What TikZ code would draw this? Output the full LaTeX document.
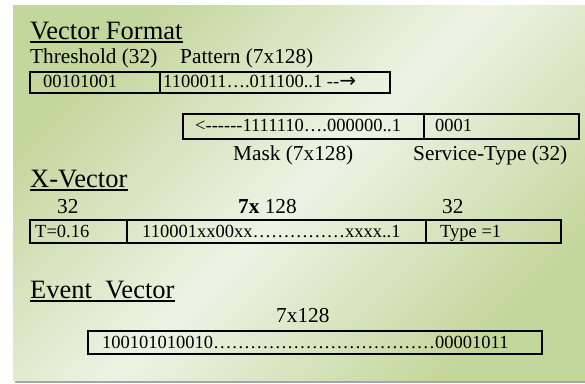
\documentclass[tikz,border=0pt]{standalone}
\usepackage{fontspec}
\setmainfont{Liberation Serif}[Ligatures=TeXOff]
\newfontfamily\arrowfont{DejaVu Sans}
\definecolor{gA}{HTML}{C3D69B}
\definecolor{gB}{HTML}{EEF3E5}
\definecolor{shadowgray}{HTML}{A6A6A6}
\tikzset{
  head/.style={inner sep=0pt, anchor=base west, font=\fontsize{26.5}{30}\selectfont},
  lbl/.style={inner sep=0pt, anchor=base west, font=\fontsize{21.3}{24}\selectfont},
  boxtxt/.style={inner sep=0pt, anchor=base west, font=\fontsize{18.5}{21}\selectfont},
  cell/.style={draw=black, line width=1.8pt, inner sep=0pt, anchor=north west},
  uline/.style={line width=1.3pt}
}
\begin{document}
\begin{tikzpicture}[x=1pt, y=-1pt]
\useasboundingbox (0,0) rectangle (585,383);
% background
\fill[shadowgray] (15,7) rectangle (587,383);
\shade[left color=gA, right color=gA, middle color=gB, shading angle=45] (13,5) rectangle (585,380);

% ---- Vector Format
\node[head] (vf) at (30,39) {Vector Format};
\draw[uline] ([yshift=-3pt]vf.base west) -- ([yshift=-3pt]vf.base east);
\node[lbl] (thr) at (30,63) {Threshold (32)};
\node[lbl] (pat) at (180,63) {Pattern (7x128)};

\node[cell, minimum width=130pt, minimum height=21pt] (c11) at (29,71) {};
\node[cell, minimum width=230pt, minimum height=21pt] (c12) at (159,71) {};
\node[boxtxt] (t11) at (43,87) {00101001};
\node[boxtxt] (t12) at (163,87) {1100011….011100..1 --{\arrowfont\fontsize{20}{22}\selectfont →}};

\node[cell, minimum width=241pt, minimum height=25pt] (c21) at (182,113) {};
\node[cell, minimum width=155pt, minimum height=25pt] (c22) at (423,113) {};
\node[boxtxt] (t21) at (195,131) {<------1111110….000000..1};
\node[boxtxt] (t22) at (435,131) {0001};
\node[lbl] (mask) at (233,160) {Mask (7x128)};
\node[lbl] (svc) at (413,160) {Service-Type (32)};

% ---- X-Vector
\node[head] (xv) at (30,187) {X-Vector};
\draw[uline] ([yshift=-3pt]xv.base west) -- ([yshift=-3pt]xv.base east);
\node[lbl] (n32a) at (57,213) {32};
\node[lbl] (n7x) at (238,213) {\textbf{7x} 128};
\node[lbl] (n32b) at (442,213) {32};

\node[cell, minimum width=97pt, minimum height=23pt] (c31) at (29,219) {};
\node[cell, minimum width=299pt, minimum height=23pt] (c32) at (126,219) {};
\node[cell, minimum width=135pt, minimum height=23pt] (c33) at (425,219) {};
\node[boxtxt] (t31) at (35,237) {T=0.16};
\node[boxtxt] (t32) at (142,237) {110001xx00xx……………xxxx..1};
\node[boxtxt] (t33) at (440,237) {Type =1};

% ---- Event Vector
\node[head] (ev) at (30,298) {Event\ \ Vector};
\draw[uline] ([yshift=-3pt]ev.base west) -- ([yshift=-3pt]ev.base east);
\node[lbl] (n7x128) at (276,322) {7x128};
\node[cell, minimum width=454pt, minimum height=23pt] (c41) at (87,330) {};
\node[boxtxt] (t41) at (102,348) {100101010010………………………………00001011};
\end{tikzpicture}
\end{document}
